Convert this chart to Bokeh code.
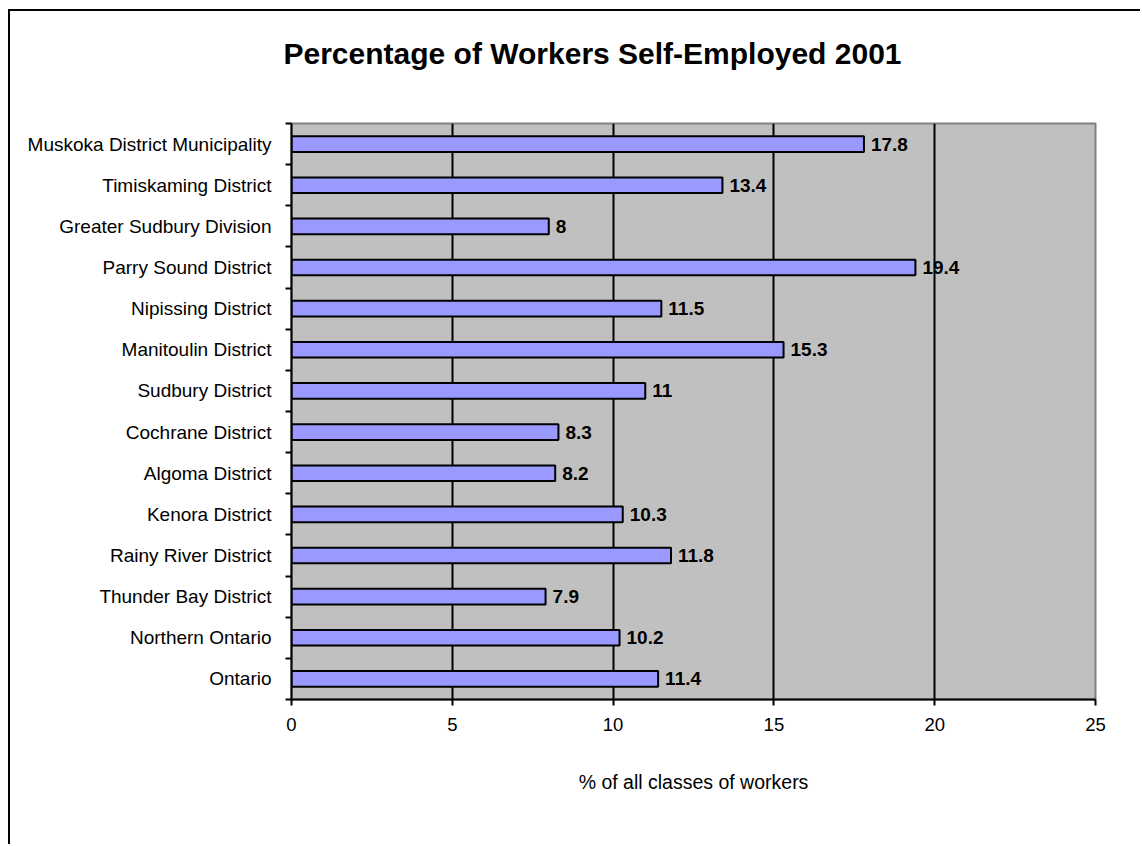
from bokeh.plotting import figure
from bokeh.models import FixedTicker, ColumnDataSource, Title
from bokeh.embed import file_html
from bokeh.resources import INLINE
from bokeh.core.properties import value

categories = ["Ontario", "Northern Ontario", "Thunder Bay District", "Rainy River District",
              "Kenora District", "Algoma District", "Cochrane District", "Sudbury District",
              "Manitoulin District", "Nipissing District", "Parry Sound District",
              "Greater Sudbury Division", "Timiskaming District", "Muskoka District Municipality"]
values = [11.4, 10.2, 7.9, 11.8, 10.3, 8.2, 8.3, 11.0, 15.3, 11.5, 19.4, 8.0, 13.4, 17.8]
value_labels = ["11.4", "10.2", "7.9", "11.8", "10.3", "8.2", "8.3", "11", "15.3", "11.5",
                "19.4", "8", "13.4", "17.8"]
x_ticks = [0, 5, 10, 15, 20, 25]
title_text = "Percentage of Workers Self-Employed 2001"

FONT = "Liberation Sans"
n = len(categories)
ypos = list(range(n))

src = ColumnDataSource(dict(y=ypos, v=values, lab=value_labels, cat=categories))

p = figure(width=1130, height=833, x_range=(0, 25), y_range=(-0.5, n - 0.5),
           output_backend="svg", toolbar_location=None,
           frame_width=804, frame_height=576,
           min_border_left=281, min_border_top=112, min_border_right=45, min_border_bottom=145)
p.margin = (9, 0, 0, 8)
p.styles = {"border-left": "2px solid black", "border-top": "2px solid black"}

p.background_fill_color = "#C0C0C0"
p.border_fill_color = "white"
p.outline_line_color = "#808080"
p.outline_line_width = 2

# spacer between title and plot area, then the title itself
spacer = Title(text=" ", text_font_size="2px", standoff=50)
p.add_layout(spacer, "above")
main_title = Title(text=title_text, text_font=FONT, text_font_size="30px",
                   text_font_style="bold", text_color="black", align="left",
                   offset=-8, standoff=0)
p.add_layout(main_title, "above")

p.hbar(y="y", right="v", left=0, height=0.38, source=src,
       fill_color="#9999FF", line_color="black", line_width=2)

p.text(x="v", y="y", text="lab", source=src, x_offset=7,
       text_font=value(FONT), text_font_size="19px", text_font_style="bold",
       text_baseline="middle", text_align="left", text_color="black")

# x axis
p.xaxis.ticker = FixedTicker(ticks=x_ticks)
p.xaxis.axis_line_color = "black"
p.xaxis.axis_line_width = 2
p.xaxis.major_tick_line_color = "black"
p.xaxis.major_tick_line_width = 2
p.xaxis.major_tick_out = 6
p.xaxis.major_tick_in = 0
p.xaxis.minor_tick_line_color = None
p.xaxis.major_label_text_font = FONT
p.xaxis.major_label_text_font_size = "18.5px"
p.xaxis.major_label_text_color = "black"
p.xaxis.major_label_standoff = 12
p.xaxis.axis_label = "% of all classes of workers"
p.xaxis.axis_label_text_font = FONT
p.xaxis.axis_label_text_font_size = "19.5px"
p.xaxis.axis_label_text_font_style = "normal"
p.xaxis.axis_label_text_color = "black"
p.xaxis.axis_label_standoff = 37

# y axis: labels at centers, ticks at category boundaries
p.yaxis.ticker = FixedTicker(ticks=ypos, minor_ticks=[i - 0.5 for i in range(n + 1)])
p.yaxis.major_label_overrides = {i: c for i, c in enumerate(categories)}
p.yaxis.axis_line_color = "black"
p.yaxis.axis_line_width = 2
p.yaxis.major_tick_line_color = None
p.yaxis.major_tick_out = 0
p.yaxis.major_tick_in = 0
p.yaxis.minor_tick_line_color = "black"
p.yaxis.minor_tick_line_width = 2
p.yaxis.minor_tick_out = 6
p.yaxis.minor_tick_in = 0
p.yaxis.major_label_text_font = FONT
p.yaxis.major_label_text_font_size = "19px"
p.yaxis.major_label_text_color = "black"
p.yaxis.major_label_standoff = 14

p.xgrid.ticker = FixedTicker(ticks=[5, 10, 15, 20])
p.xgrid.grid_line_color = "black"
p.xgrid.grid_line_width = 2
p.ygrid.grid_line_color = None

open("out.html", "w").write(file_html(p, INLINE))
